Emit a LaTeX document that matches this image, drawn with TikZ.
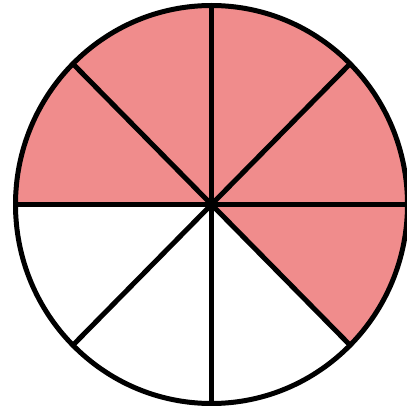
\documentclass[tikz,border=0pt]{standalone}
\usetikzlibrary{calc}
\definecolor{slicepink}{RGB}{240,140,140}
\tikzset{
  slice edge/.style={line width=5pt},
  slice fill/.style={fill=slicepink}
}

\begin{document}
\begin{tikzpicture}[x=1pt,y=1pt,line cap=round,line join=round]
  \useasboundingbox (0,0) rectangle (407,408);
  \coordinate (c) at (211.5,203.5);
  \foreach \i/\a in {0/0,1/45,2/90,3/135,4/180,5/225,6/270,7/315} {
    \coordinate (r\i) at ($(c)+(\a:196pt and 199pt)$);
  }

  % shaded slices
  \foreach \a in {-45,0,45,90,135} {
    \fill[slice fill] (c) -- ++(\a:196pt and 199pt)
      arc[start angle=\a,end angle=\a+45,x radius=196pt,y radius=199pt] -- cycle;
  }

  \foreach \i in {0,...,7} {\draw[slice edge] (c) -- (r\i);}
  \draw[slice edge] (c) ellipse[x radius=196pt,y radius=199pt];
\end{tikzpicture}
\end{document}
